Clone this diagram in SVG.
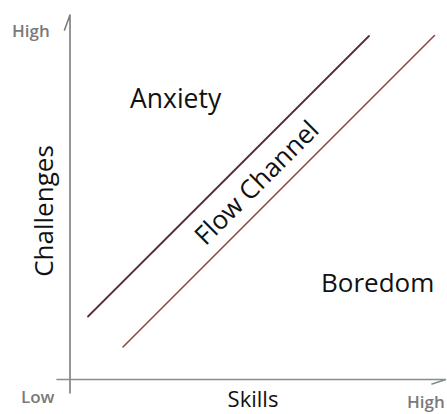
<svg xmlns="http://www.w3.org/2000/svg" width="447" height="414" viewBox="0 0 447 414">
<style>
.lbl{font-family:"Open Sans","Liberation Sans",sans-serif;fill:#111;}
.tick{font-family:"Open Sans","Liberation Sans",sans-serif;fill:#7a7a7a;font-size:17px;font-weight:600;}
.axis{stroke:#7c7c7c;stroke-width:1.6;fill:none;stroke-linecap:round;}
</style>
<rect width="447" height="414" fill="#ffffff"/>
<g id="axes">
<path class="axis" d="M70,15 L70,393 M70,15 L64.5,30"/>
<path class="axis" d="M57,379.5 L446,379.5 L432,384" style="stroke:#84918a"/>
</g>
<g id="connectors">
<line x1="88" y1="316.5" x2="369" y2="36" stroke="#5c2a3c" stroke-width="1.8" stroke-linecap="round"/>
<line x1="123" y1="347" x2="434.5" y2="35.5" stroke="#8c4c46" stroke-width="1.6" stroke-linecap="round"/>
</g>
<g id="labels">
<text class="tick" x="12" y="37">High</text>
<text class="tick" x="21" y="403">Low</text>
<text class="tick" x="407" y="408">High</text>
<text class="lbl" x="53" y="211" font-size="26" text-anchor="middle" transform="rotate(-90 53 211)">Challenges</text>
<text class="lbl" x="253" y="407" font-size="22" text-anchor="middle">Skills</text>
</g>
<g id="anxiety"><text class="lbl" x="130" y="108" font-size="26.5">Anxiety</text></g>
<g id="boredom"><text class="lbl" x="321" y="292" font-size="26">Boredom</text></g>
<g id="flow"><text class="lbl" x="263" y="189" font-size="26" text-anchor="middle" transform="rotate(-45 263 189)">Flow Channel</text></g>
</svg>
